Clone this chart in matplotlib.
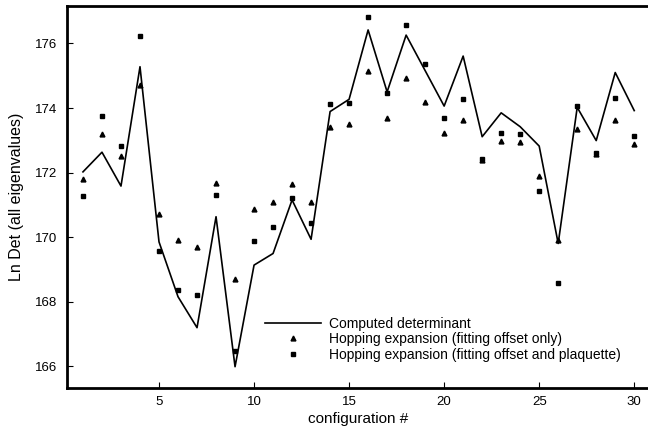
import matplotlib
matplotlib.use("Agg")
import matplotlib.pyplot as plt
import numpy as np

plt.rcParams["font.family"] = ["Liberation Sans", "DejaVu Sans"]

config = np.arange(1, 31)

# Ln Det, exact computation
computed = [172.02, 172.63, 171.58, 175.28, 169.85, 168.15, 167.19, 170.63, 165.98, 169.13,
            169.49, 171.15, 169.93, 173.89, 174.27, 176.42, 174.50, 176.26, 175.16, 174.06,
            175.61, 173.11, 173.85, 173.42, 172.82, 169.80, 174.02, 172.99, 175.10, 173.92]

# hopping expansion, offset fitted only
fit_offset = [171.80, 173.19, 172.52, 174.71, 170.71, 169.91, 169.70, 171.68, 168.70, 170.86,
              171.09, 171.63, 171.09, 173.42, 173.49, 175.15, 173.68, 174.94, 174.18, 173.24,
              173.63, 172.39, 172.98, 172.96, 171.90, 169.92, 173.35, 172.57, 173.63, 172.88]

# hopping expansion, offset + plaquette fitted
fit_plaq = [171.27, 173.76, 172.83, 176.24, 169.58, 168.36, 168.20, 171.30, 166.47, 169.89,
            170.30, 171.20, 170.42, 174.11, 174.16, 176.83, 174.47, 176.57, 175.35, 173.68,
            174.28, 172.42, 173.21, 173.19, 171.43, 168.56, 174.06, 172.62, 174.32, 173.13]

fig = plt.figure(figsize=(6.48, 4.34), dpi=100)
ax = fig.add_axes([0.1034, 0.106, 0.90, 0.880])

ax.plot(config, computed, color="black", lw=1.2, label="Computed determinant")
ax.plot(config, fit_offset, ls="none", marker="^", ms=3.5, color="black",
        label="Hopping expansion (fitting offset only)")
ax.plot(config, fit_plaq, ls="none", marker="s", ms=2.9, color="black",
        label="Hopping expansion (fitting offset and plaquette)")

ax.set_xlim(0.16, 30.84)
ax.set_ylim(165.32, 177.16)
ax.set_xticks([5, 10, 15, 20, 25, 30])
ax.set_yticks([166, 168, 170, 172, 174, 176])
ax.tick_params(direction="in", length=4, width=0.8, labelsize=9.5)
ax.tick_params(axis="x", pad=6)
ax.tick_params(axis="y", pad=7)

for side in ("left", "bottom", "top"):
    ax.spines[side].set_linewidth(2)
ax.spines["right"].set_visible(False)

ax.set_xlabel("configuration #", fontsize=11, labelpad=3)
ax.set_ylabel("Ln Det (all eigenvalues)", fontsize=11.5, labelpad=8)

ax.legend(loc="upper left", bbox_to_anchor=(0.340, 0.186), frameon=False,
          fontsize=10, handlelength=4.0, handletextpad=0.6,
          labelspacing=0.1, borderaxespad=0, borderpad=0)

fig.savefig("out.png", dpi=100)
